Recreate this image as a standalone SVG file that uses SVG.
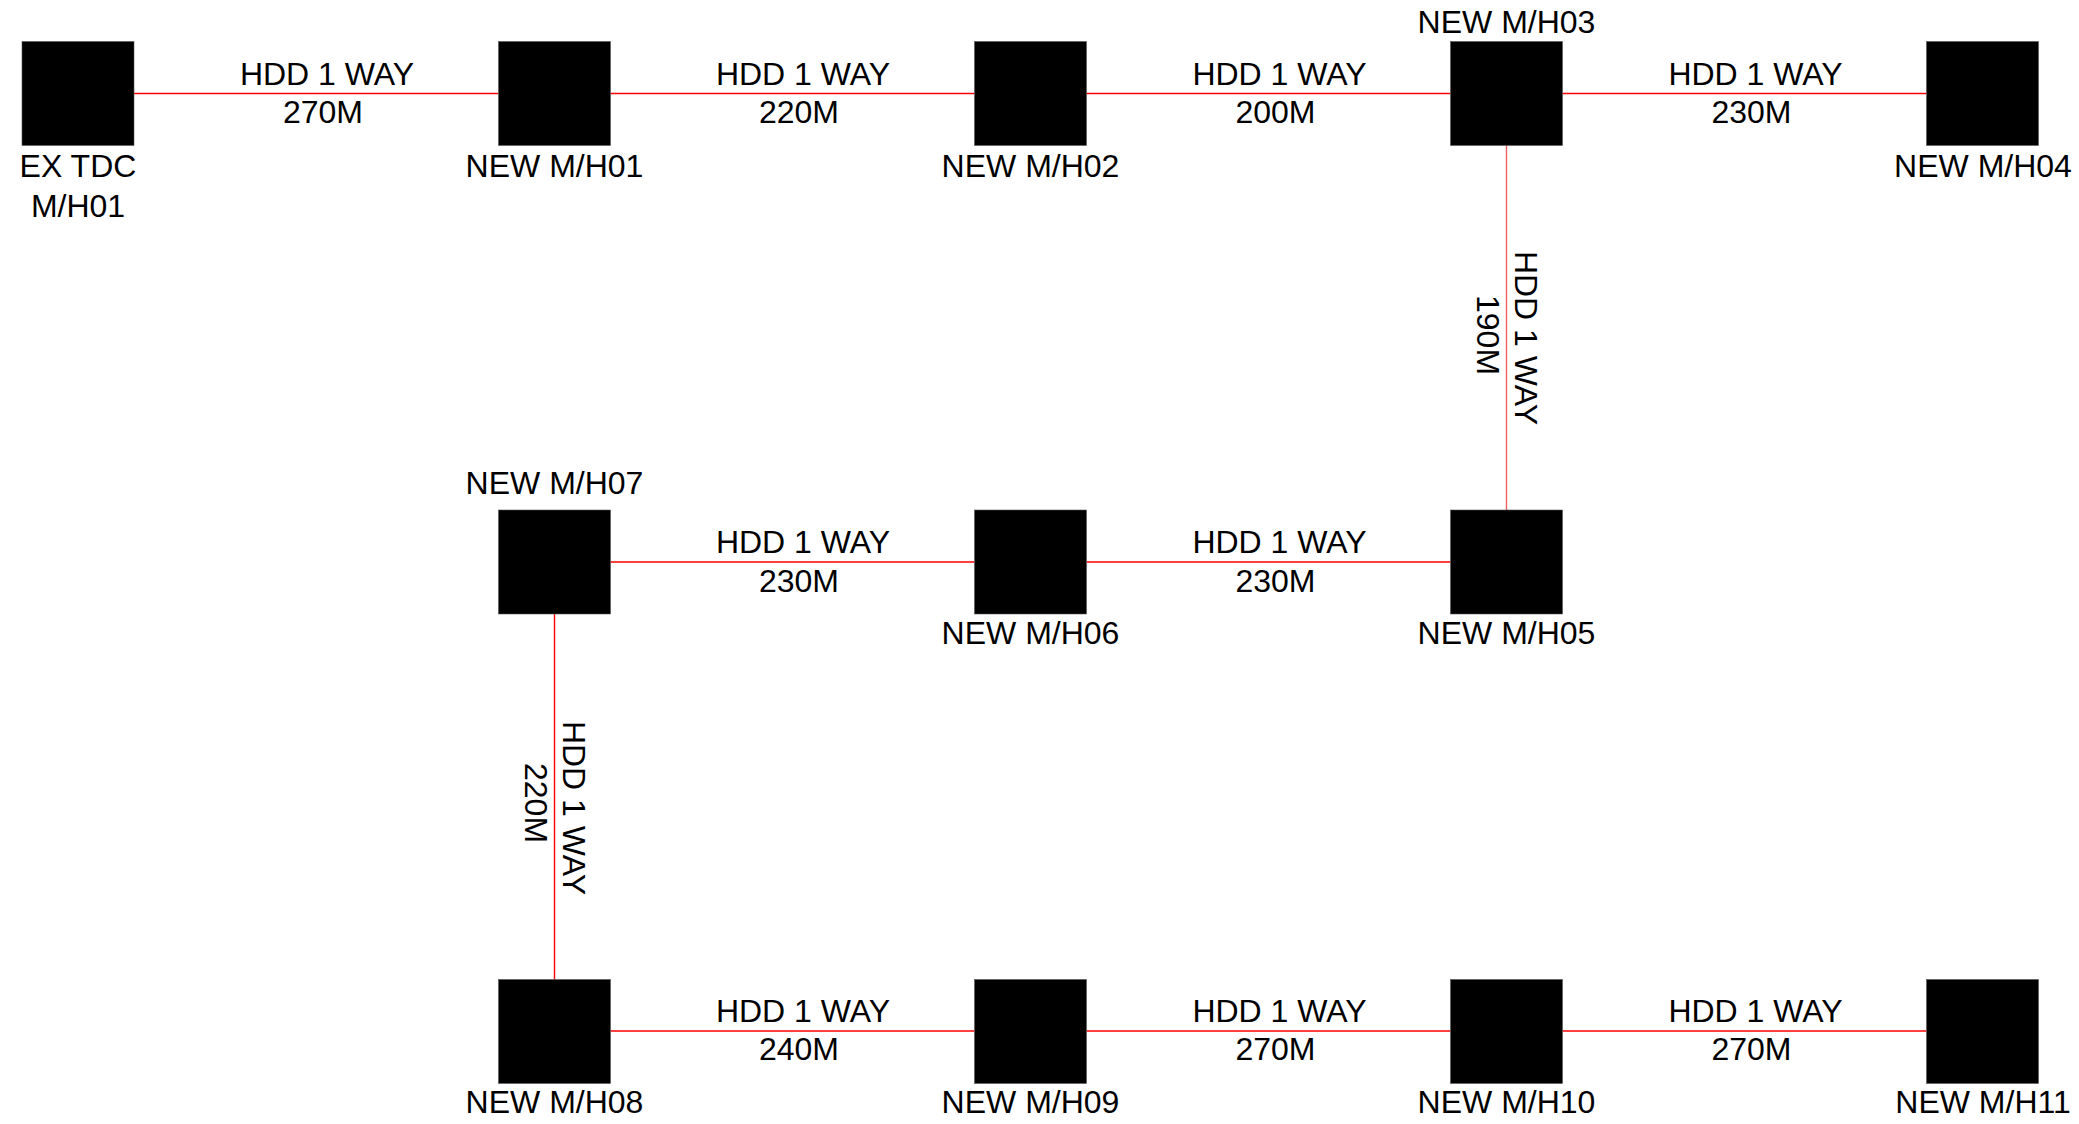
<svg xmlns="http://www.w3.org/2000/svg" width="2079" height="1124" viewBox="0 0 2079 1124">
<style>
.box{fill:#000;stroke:#555;stroke-width:0.6}
.lbl{font-family:"Liberation Sans",Arial,sans-serif;font-size:32px;fill:#000;text-anchor:middle}
.con{stroke:#ff0000;stroke-width:1.4;fill:none}
.conv{stroke:#f06060;stroke-width:1.4;fill:none}
</style>
<rect width="2079" height="1124" fill="#fff"/>
<g id="connectors">
<line class="con" x1="134" y1="93.5" x2="498.5" y2="93.5"/>
<line class="con" x1="610.5" y1="93.5" x2="974.5" y2="93.5"/>
<line class="con" x1="1086.5" y1="93.5" x2="1450.5" y2="93.5"/>
<line class="con" x1="1562.5" y1="93.5" x2="1926.5" y2="93.5"/>
<line class="conv" x1="1506.5" y1="145.5" x2="1506.5" y2="510"/>
<line class="con" x1="610.5" y1="562" x2="974.5" y2="562"/>
<line class="con" x1="1086.5" y1="562" x2="1450.5" y2="562"/>
<line class="con" x1="554.5" y1="614" x2="554.5" y2="979.5"/>
<line class="con" x1="610.5" y1="1031" x2="974.5" y2="1031"/>
<line class="con" x1="1086.5" y1="1031" x2="1450.5" y2="1031"/>
<line class="con" x1="1562.5" y1="1031" x2="1926.5" y2="1031"/>
<text class="lbl" x="327" y="85">HDD 1 WAY</text>
<text class="lbl" x="323" y="123">270M</text>
<text class="lbl" x="803" y="85">HDD 1 WAY</text>
<text class="lbl" x="799" y="123">220M</text>
<text class="lbl" x="1279.5" y="85">HDD 1 WAY</text>
<text class="lbl" x="1275.5" y="123">200M</text>
<text class="lbl" x="1755.5" y="85">HDD 1 WAY</text>
<text class="lbl" x="1751.5" y="123">230M</text>
<text class="lbl" transform="translate(1515,338) rotate(90)">HDD 1 WAY</text>
<text class="lbl" transform="translate(1477,335) rotate(90)">190M</text>
<text class="lbl" x="803" y="553">HDD 1 WAY</text>
<text class="lbl" x="799" y="592">230M</text>
<text class="lbl" x="1279.5" y="553">HDD 1 WAY</text>
<text class="lbl" x="1275.5" y="592">230M</text>
<text class="lbl" transform="translate(563,808) rotate(90)">HDD 1 WAY</text>
<text class="lbl" transform="translate(525,803) rotate(90)">220M</text>
<text class="lbl" x="803" y="1022">HDD 1 WAY</text>
<text class="lbl" x="799" y="1060">240M</text>
<text class="lbl" x="1279.5" y="1022">HDD 1 WAY</text>
<text class="lbl" x="1275.5" y="1060">270M</text>
<text class="lbl" x="1755.5" y="1022">HDD 1 WAY</text>
<text class="lbl" x="1751.5" y="1060">270M</text>
</g>
<g id="ex-tdc-mh01"><rect class="box" x="22" y="41.5" width="112" height="104"/><text class="lbl" x="78" y="177">EX TDC</text><text class="lbl" x="78" y="217">M/H01</text></g>
<g id="new-mh01"><rect class="box" x="498.5" y="41.5" width="112" height="104"/><text class="lbl" x="554.5" y="177">NEW M/H01</text></g>
<g id="new-mh02"><rect class="box" x="974.5" y="41.5" width="112" height="104"/><text class="lbl" x="1030.5" y="177">NEW M/H02</text></g>
<g id="new-mh03"><rect class="box" x="1450.5" y="41.5" width="112" height="104"/><text class="lbl" x="1506.5" y="33">NEW M/H03</text></g>
<g id="new-mh04"><rect class="box" x="1926.5" y="41.5" width="112" height="104"/><text class="lbl" x="1983" y="177">NEW M/H04</text></g>
<g id="new-mh07"><rect class="box" x="498.5" y="510" width="112" height="104"/><text class="lbl" x="554.5" y="494">NEW M/H07</text></g>
<g id="new-mh06"><rect class="box" x="974.5" y="510" width="112" height="104"/><text class="lbl" x="1030.5" y="644">NEW M/H06</text></g>
<g id="new-mh05"><rect class="box" x="1450.5" y="510" width="112" height="104"/><text class="lbl" x="1506.5" y="644">NEW M/H05</text></g>
<g id="new-mh08"><rect class="box" x="498.5" y="979.5" width="112" height="104"/><text class="lbl" x="554.5" y="1113">NEW M/H08</text></g>
<g id="new-mh09"><rect class="box" x="974.5" y="979.5" width="112" height="104"/><text class="lbl" x="1030.5" y="1113">NEW M/H09</text></g>
<g id="new-mh10"><rect class="box" x="1450.5" y="979.5" width="112" height="104"/><text class="lbl" x="1506.5" y="1113">NEW M/H10</text></g>
<g id="new-mh11"><rect class="box" x="1926.5" y="979.5" width="112" height="104"/><text class="lbl" x="1983" y="1113">NEW M/H11</text></g>
</svg>
